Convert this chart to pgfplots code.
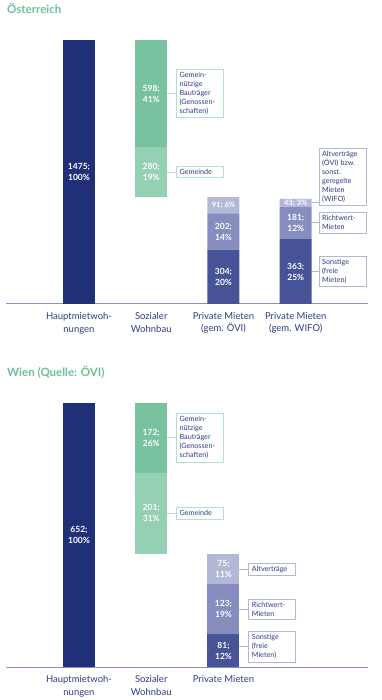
\documentclass[border=0pt]{standalone}
\usepackage{pgfplots}
\pgfplotsset{compat=1.18}
\usepackage{fontspec}
\setmainfont{Lato}
\definecolor{navy}{HTML}{1F3078}
\definecolor{gA}{HTML}{78C2A0}
\definecolor{gB}{HTML}{96D0B4}
\definecolor{pA}{HTML}{465396}
\definecolor{pB}{HTML}{878DBE}
\definecolor{pC}{HTML}{B4B8D7}
\definecolor{axc}{HTML}{8A90C4}
\definecolor{txt}{HTML}{2E3A86}
\definecolor{ttl}{HTML}{6CC196}
\definecolor{gbox}{HTML}{B2E0CB}
\definecolor{pbox}{HTML}{B3B6D4}
\pgfplotsset{
  mychart/.style={
    scale only axis, width=362bp, height=264bp,
    xmin=-1.01, xmax=4.0, ymin=0,
    ybar stacked, bar width=32bp,
    axis x line*=bottom, axis y line=none,
    x axis line style={draw=axc, line width=1bp, -},
    xtick={0,1,2,3}, xtick style={draw=none},
    ytick=\empty,
    xticklabel style={align=center, font=\fontsize{9.5bp}{12.5bp}\selectfont, text=txt, yshift=-5bp},
    clip=false,
  },
}
\tikzset{
  bl/.style={font=\fontsize{8.5bp}{11bp}\selectfont\bfseries, text=white, align=center, inner sep=0pt},
  bx/.style={draw=#1, line width=0.8bp, fill=white, text=txt, font=\fontsize{7.2bp}{9bp}\selectfont, align=left, text width=41bp, inner xsep=3bp, inner ysep=3bp, anchor=west},
}
\begin{document}
\begin{tikzpicture}
\useasboundingbox (0bp,0bp) rectangle (382bp,700bp);
\node[anchor=west, inner sep=0pt, text=ttl, font=\fontsize{11.5bp}{13bp}\selectfont\bfseries] at (7bp,692bp) {Österreich};
\node[anchor=west, inner sep=0pt, text=ttl, font=\fontsize{11.5bp}{13bp}\selectfont\bfseries] at (7bp,328bp) {Wien (Quelle: ÖVI)};

% ---------- Österreich ----------
\begin{axis}[mychart, at={(6bp,396bp)}, anchor=south west, ymax=1475,
  xticklabels={{Hauptmietwoh-\\nungen},{Sozialer\\Wohnbau},{Private Mieten\\(gem. ÖVI)},{Private Mieten\\(gem. WIFO)}}]
\addplot[fill=navy, draw=none] coordinates {(0,1475) (1,0) (2,0) (3,0)};
\addplot[fill=none, draw=none] coordinates {(0,0) (1,597) (2,0) (3,0)};
\addplot[fill=gB, draw=none] coordinates {(0,0) (1,280) (2,0) (3,0)};
\addplot[fill=gA, draw=none] coordinates {(0,0) (1,598) (2,0) (3,0)};
\addplot[fill=pA, draw=none] coordinates {(0,0) (1,0) (2,304) (3,363)};
\addplot[fill=pB, draw=none] coordinates {(0,0) (1,0) (2,202) (3,181)};
\addplot[fill=pC, draw=none] coordinates {(0,0) (1,0) (2,91) (3,43)};
\coordinate (A1) at (axis cs:0,737.5);
\coordinate (A2) at (axis cs:1,737);
\coordinate (A3) at (axis cs:1,1176);
\coordinate (A4) at (axis cs:2,152);
\coordinate (A5) at (axis cs:2,405);
\coordinate (A6) at (axis cs:2,551.5);
\coordinate (A7) at (axis cs:3,181.5);
\coordinate (A8) at (axis cs:3,453.5);
\coordinate (A9) at (axis cs:3,565.5);
\draw[gbox, line width=0.8bp] (axis cs:1.2212,1176) -- (axis cs:1.3456,1176) node[bx=gbox] {Gemein-\\nützige\\Bauträger\\(Genossen-\\schaften)};
\draw[gbox, line width=0.8bp] (axis cs:1.2212,737) -- (axis cs:1.3456,737) node[bx=gbox] {Gemeinde};
\draw[pbox, line width=0.8bp] (axis cs:3.2212,565.5) -- (axis cs:3.318,565.5) node[bx=pbox, anchor=south west, yshift=-3.5bp] {Altverträge\\(ÖVI) bzw.\\sonst.\\geregelte\\Mieten\\(WIFO)};
\draw[pbox, line width=0.8bp] (axis cs:3.2212,453.5) -- (axis cs:3.318,453.5) node[bx=pbox] {Richtwert-\\Mieten};
\draw[pbox, line width=0.8bp] (axis cs:3.2212,181.5) -- (axis cs:3.318,181.5) node[bx=pbox] {Sonstige\\(freie\\Mieten)};
\end{axis}
\node[bl] at (A1) {1475;\\100\%};
\node[bl] at (A2) {280;\\19\%};
\node[bl] at (A3) {598;\\41\%};
\node[bl] at (A4) {304;\\20\%};
\node[bl] at (A5) {202;\\14\%};
\node[bl, font=\fontsize{7.6bp}{9bp}\selectfont\bfseries] at (A6) {91; 6\%};
\node[bl] at (A7) {363;\\25\%};
\node[bl] at (A8) {181;\\12\%};
\node[bl, font=\fontsize{7.6bp}{9bp}\selectfont\bfseries] at (A9) {43; 3\%};

% ---------- Wien ----------
\begin{axis}[mychart, at={(6bp,33bp)}, anchor=south west, ymax=652,
  xticklabels={{Hauptmietwoh-\\nungen},{Sozialer\\Wohnbau},{Private Mieten}}, xtick={0,1,2}]
\addplot[fill=navy, draw=none] coordinates {(0,652) (1,0) (2,0)};
\addplot[fill=none, draw=none] coordinates {(0,0) (1,279) (2,0)};
\addplot[fill=gB, draw=none] coordinates {(0,0) (1,201) (2,0)};
\addplot[fill=gA, draw=none] coordinates {(0,0) (1,172) (2,0)};
\addplot[fill=pA, draw=none] coordinates {(0,0) (1,0) (2,81)};
\addplot[fill=pB, draw=none] coordinates {(0,0) (1,0) (2,123)};
\addplot[fill=pC, draw=none] coordinates {(0,0) (1,0) (2,75)};
\coordinate (B1) at (axis cs:0,326);
\coordinate (B2) at (axis cs:1,379.5);
\coordinate (B3) at (axis cs:1,566);
\coordinate (B4) at (axis cs:2,40.5);
\coordinate (B5) at (axis cs:2,142.5);
\coordinate (B6) at (axis cs:2,241.5);
\draw[gbox, line width=0.8bp] (axis cs:1.2212,566) -- (axis cs:1.3456,566) node[bx=gbox] {Gemein-\\nützige\\Bauträger\\(Genossen-\\schaften)};
\draw[gbox, line width=0.8bp] (axis cs:1.2212,379.5) -- (axis cs:1.3456,379.5) node[bx=gbox] {Gemeinde};
\draw[pbox, line width=0.8bp] (axis cs:2.2212,241.5) -- (axis cs:2.3456,241.5) node[bx=pbox] {Altverträge};
\draw[pbox, line width=0.8bp] (axis cs:2.2212,142.5) -- (axis cs:2.3456,142.5) node[bx=pbox] {Richtwert-\\Mieten};
\draw[pbox, line width=0.8bp] (axis cs:2.2212,50) -- (axis cs:2.3456,50) node[bx=pbox] {Sonstige\\(freie\\Mieten)};
\end{axis}
\node[bl] at (B1) {652;\\100\%};
\node[bl] at (B2) {201;\\31\%};
\node[bl] at (B3) {172;\\26\%};
\node[bl] at (B4) {81;\\12\%};
\node[bl] at (B5) {123;\\19\%};
\node[bl] at (B6) {75;\\11\%};
\end{tikzpicture}
\end{document}
